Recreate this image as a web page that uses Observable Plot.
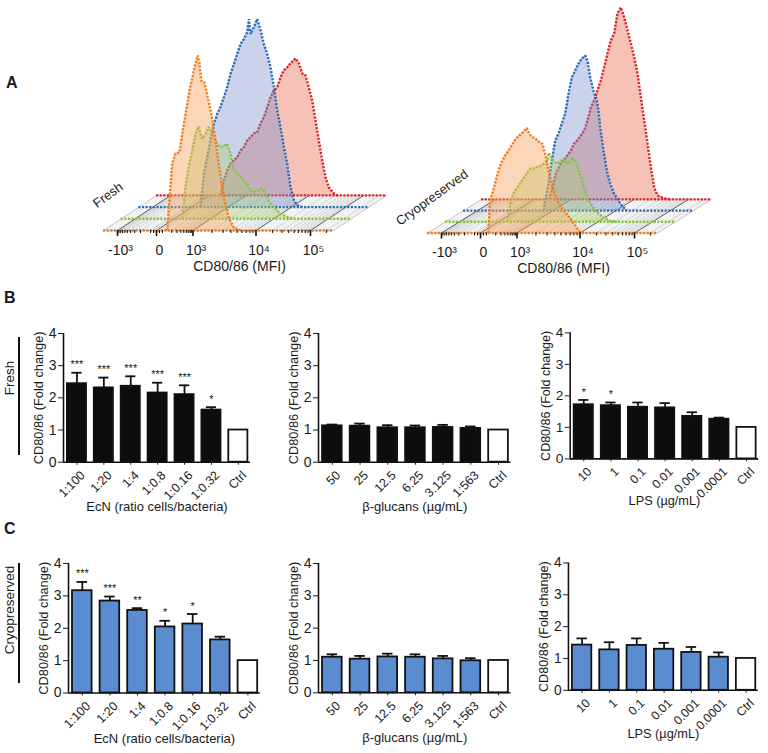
<!DOCTYPE html>
<html><head><meta charset="utf-8">
<script src="https://cdn.jsdelivr.net/npm/d3@7"></script>
<script src="https://cdn.jsdelivr.net/npm/@observablehq/plot@0.6"></script>
<style>
body{margin:0;background:#fff;}
#root{position:relative;width:768px;height:753px;overflow:hidden;background:#fff;font-family:Arial,"Liberation Sans",sans-serif;color:#1a1a1a;}
.abs{position:absolute;}
.letter{position:absolute;font-weight:bold;font-size:16px;line-height:16px;}
.rowlab{position:absolute;font-size:13.5px;white-space:nowrap;transform:translate(-50%,-50%) rotate(-90deg);}
.vline{position:absolute;background:#111;width:2px;}
</style></head><body><div id="root"></div>
<script>
// ---------------- Panel A data (flow cytometry overlays) ----------------
// [display channel, count] pairs, front (orange) to back (red)
const freshOrange = [[63.7,0],[66,30],[68.7,67],[72,77],[76,78],[79.3,100],[82.7,120],[86,140],[89.3,155],[92,167],[94.3,175],[96,167],[97.7,150],[101,148],[104.3,133],[107.7,117],[111,97],[114.3,73],[117.7,50],[121,30],[125.3,13],[130.3,3],[137,0]];
const freshGreen = [[61,0],[64.3,32],[67.6,52],[71,68],[74.3,85],[77.6,92],[81,80],[84.3,85],[87.6,92],[91,85],[94.3,78],[97.6,73],[101,72],[106,75],[109.3,65],[112.6,48],[116,45],[119.3,42],[122.6,37],[126,35],[129.3,28],[132.6,27],[136,28],[141,30],[144.3,25],[147.6,18],[152.6,12],[159.3,5],[166,2],[172.6,0]];
const freshBlue = [[61.6,0],[65,33],[68.3,50],[71.6,67],[75,83],[78.3,93],[81.6,100],[85,110],[88.3,120],[91.6,133],[95,143],[98.3,153],[101.6,163],[105,168],[108.3,175],[110,188],[111.6,173],[115,180],[118.3,188],[121.6,177],[125,163],[128.3,153],[131.6,140],[135,120],[138.3,97],[141.6,80],[145,60],[148.3,43],[151.6,20],[155,7],[158.3,2],[163.3,0]];
const freshRed = [[63.9,0],[67.2,15],[70.6,25],[73.9,32],[77.2,35],[80.6,38],[83.9,45],[87.2,48],[90.6,55],[93.9,58],[97.2,62],[100.6,63],[103.9,72],[107.2,78],[110.6,88],[113.9,98],[117.2,105],[120.6,108],[123.9,118],[127.2,125],[130.6,128],[133.9,132],[138.9,137],[142.2,132],[145.6,122],[148.9,120],[152.2,108],[155.6,95],[158.9,75],[162.2,55],[165.6,35],[168.9,18],[172.2,8],[177.2,2],[180.6,0]];
const cryoOrange = [[60.7,0],[62.7,32],[66.7,46],[70,59],[73.4,69],[76.7,76],[80,81],[83.4,86],[86.7,92],[90,96],[93.4,99],[96.7,102],[99.4,105],[101.7,99],[105,96],[108.4,94],[111.7,91],[115,89],[118.4,76],[121.7,59],[125,46],[128.4,36],[131.7,29],[136.7,22],[141.7,16],[146.7,9],[151.7,2],[156.7,0]];
const cryoGreen = [[61.6,0],[63.3,8],[65,21],[68.3,29],[71.6,34],[75,39],[78.3,44],[81.6,49],[85,53],[90,54],[95,56],[98.3,58],[101.6,61],[103.3,69],[105,66],[108.3,61],[111.6,58],[115,61],[118.3,63],[121.6,58],[125,61],[126.6,64],[130,61],[133.3,51],[136.6,41],[140,29],[143.3,21],[148.3,13],[153.3,8],[158.3,4],[165,1],[171.6,0]];
const cryoBlue = [[80,0],[81.7,10],[85,27],[88.3,50],[91.7,70],[95,77],[98.3,87],[101.7,97],[105,117],[108.3,133],[111.7,140],[115,147],[118.3,152],[121.7,155],[124,150],[126.7,133],[130,120],[133.3,110],[135,100],[136.7,83],[140,60],[143.3,40],[146.7,27],[150,18],[155,10],[158.3,5],[163.3,0]];
const cryoRed = [[67.7,0],[71,12],[74.4,26],[79.4,36],[84.4,42],[89.4,49],[92.7,56],[96,59],[99.4,64],[102.7,69],[106,79],[109.4,92],[112.7,99],[116,109],[119.4,119],[122.7,132],[126,146],[129.4,159],[132.7,166],[136,186],[139.4,192],[142.7,182],[146,169],[149.4,156],[152.7,142],[156,126],[159.4,102],[162.7,79],[166,56],[169.4,32],[172.7,12],[176,4],[182.7,1],[189.4,0]];

const mfiTickValues = [-1000, 0, 1000, 10000, 100000];
const mfiTickLabels = ["-10³", "0", "10³", "10⁴", "10⁵"];
// logicle-like display calibration (value -> display channel)
const displayAnchorV = [-1000, -100, 0, 100, 1000, 10000, 100000, 262144];
const displayAnchorC = [14, 47, 53, 59, 89.5, 152.5, 207, 229];

// ---------------- Panels B / C data ----------------
const ecnLabels = ["1:100","1:20","1:4","1:0.8","1:0.16","1:0.32","Ctrl"];
const glucanLabels = ["50","25","12.5","6.25","3.125","1:563","Ctrl"];
const lpsLabels = ["10","1","0.1","0.01","0.001","0.0001","Ctrl"];

const freshEcnMean = [2.44, 2.31, 2.36, 2.15, 2.10, 1.62, 1.0];
const freshEcnErr  = [0.34, 0.32, 0.31, 0.32, 0.29, 0.09, 0];
const freshEcnSig  = ["***","***","***","***","***","*",""];
const freshGluMean = [1.13, 1.12, 1.07, 1.07, 1.08, 1.05, 1.0];
const freshGluErr  = [0.04, 0.08, 0.08, 0.07, 0.08, 0.06, 0];
const freshGluSig  = ["","","","","","",""];
const freshLpsMean = [1.72, 1.69, 1.64, 1.62, 1.35, 1.26, 1.0];
const freshLpsErr  = [0.15, 0.10, 0.15, 0.15, 0.13, 0.05, 0];
const freshLpsSig  = ["*","*","","","","",""];

const cryoEcnMean = [3.16, 2.84, 2.55, 2.04, 2.13, 1.64, 1.0];
const cryoEcnErr  = [0.27, 0.14, 0.07, 0.19, 0.31, 0.10, 0];
const cryoEcnSig  = ["***","***","**","*","*","",""];
const cryoGluMean = [1.10, 1.04, 1.11, 1.10, 1.05, 0.99, 1.0];
const cryoGluErr  = [0.09, 0.10, 0.10, 0.09, 0.09, 0.08, 0];
const cryoGluSig  = ["","","","","","",""];
const cryoLpsMean = [1.42, 1.27, 1.41, 1.29, 1.19, 1.04, 1.0];
const cryoLpsErr  = [0.21, 0.24, 0.22, 0.20, 0.17, 0.15, 0];
const cryoLpsSig  = ["","","","","","",""];

const yTicks = [0, 1, 2, 3, 4];

// ---------------- helpers ----------------
const FONT = 'Arial, "Liberation Sans", sans-serif';
const INK = "#1a1a1a";
const root = document.getElementById("root");
function place(node, left, top) {
  const w = document.createElement("div");
  w.className = "abs"; w.style.left = left + "px"; w.style.top = top + "px";
  w.appendChild(node); root.appendChild(w);
}
function chan(v) {
  const V = displayAnchorV, C = displayAnchorC;
  let i = 0;
  while (i < V.length - 2 && v > V[i + 1]) i++;
  const a = V[i], b = V[i + 1];
  let t;
  if (Math.abs(a) >= 100 && Math.abs(b) >= 100 && Math.sign(a) === Math.sign(b)) {
    t = (Math.log10(Math.abs(v)) - Math.log10(Math.abs(a))) / (Math.log10(Math.abs(b)) - Math.log10(Math.abs(a)));
  } else t = (v - a) / (b - a);
  return C[i] + t * (C[i + 1] - C[i]);
}
const minorVals = [];
for (let m = 2; m <= 9; m++) { minorVals.push(-m * 100, m * 100, m * 1000, m * 10000); }
minorVals.push(-100, -50, 50, 100, 200000);

const layerStyle = [
  {stroke: "#f47c20", fill: "#f5a55a", op: 0.44},
  {stroke: "#86c440", fill: "#a5cf6a", op: 0.36},
  {stroke: "#2c6db8", fill: "#7b8fd0", op: 0.40},
  {stroke: "#d6262b", fill: "#e8775a", op: 0.45}
];

function histoChart(cfg) {
  const W = 230, DX = cfg.dx, DY = cfg.dy, base = cfg.base;
  const xDom = [-30, 290], H = 285;
  const dash = "2.2 1.4";
  const marks = [];
  const floor = [[0,0],[W,0],[W+3*DX,3*DY],[3*DX,3*DY],[0,0]];
  marks.push(Plot.line(floor, {x: d => d[0], y: d => d[1], fill: "#f2f2f2", stroke: "#aaa", strokeWidth: 0.7}));
  marks.push(Plot.link(minorVals, {x1: v => chan(v), y1: 0, x2: v => chan(v) + 3*DX, y2: 3*DY, stroke: "#bdbdbd", strokeWidth: 0.6}));
  marks.push(Plot.link(mfiTickValues, {x1: v => chan(v), y1: 0, x2: v => chan(v) + 3*DX, y2: 3*DY, stroke: "#333", strokeWidth: 0.8}));
  for (let k = 3; k >= 0; k--) {
    const s = layerStyle[k], data = cfg.layers[k];
    marks.push(Plot.areaY(data, {x: d => d[0] + k*DX, y1: k*DY, y2: d => d[1] + k*DY, fill: s.fill, fillOpacity: s.op}));
    marks.push(Plot.ruleY([k*DY], {x1: k*DX, x2: W + k*DX, stroke: s.stroke, strokeWidth: 2.4, strokeDasharray: dash, strokeLinecap: "butt"}));
    marks.push(Plot.line(data, {x: d => d[0] + k*DX, y: d => d[1] + k*DY, stroke: s.stroke, strokeWidth: 2.4, strokeDasharray: dash, strokeLinecap: "butt", strokeLinejoin: "miter"}));
  }
  marks.push(Plot.ruleX(minorVals, {x: v => chan(v), y1: 0, y2: -3, stroke: "#111", strokeWidth: 1}));
  marks.push(Plot.ruleX(mfiTickValues, {x: v => chan(v), y1: 0, y2: -6, stroke: "#111", strokeWidth: 1.6}));
  marks.push(Plot.text(mfiTickValues, {x: v => chan(v), y: 0, text: (v, i) => mfiTickLabels[i], dy: 20, dx: 3, fontSize: 14, fill: INK}));
  marks.push(Plot.text(["CD80/86 (MFI)"], {frameAnchor: "bottom", textAnchor: "middle", dy: 40, dx: 6, fontSize: 14, fill: INK}));
  marks.push(Plot.text([cfg.name], {frameAnchor: "bottom-left", textAnchor: "middle", dx: 37, dy: -32, rotate: -36, fontSize: 13, fill: INK}));
  const svg = Plot.plot({
    width: xDom[1] - xDom[0], height: H,
    marginLeft: 0, marginRight: 0, marginTop: 0, marginBottom: H - base,
    style: {background: "transparent", overflow: "visible", fontFamily: FONT},
    x: {domain: xDom, axis: null},
    y: {domain: [0, base], axis: null},
    marks
  });
  place(svg, cfg.origin + xDom[0], 0);
}

function barChart(cfg) {
  const n = cfg.labels.length;
  const rows = cfg.labels.map((label, i) => ({i, label, mean: cfg.means[i], err: cfg.errs[i], sig: cfg.sigs[i], ctrl: label === "Ctrl"}));
  const withErr = rows.filter(d => d.err > 0);
  const dom = [-0.5, n - 0.55];
  const mL = 62, mT = 30, mR = 10, mB = 75;
  const innerW = cfg.step * (dom[1] - dom[0]);
  const innerH = cfg.y0 - cfg.y4;
  const svg = Plot.plot({
    width: mL + innerW + mR, height: mT + innerH + mB,
    marginLeft: mL, marginTop: mT, marginRight: mR, marginBottom: mB,
    style: {background: "transparent", overflow: "visible", fontFamily: FONT, color: INK},
    x: {domain: dom},
    y: {domain: [0, 4]},
    marks: [
      Plot.rectY(rows, {x1: d => d.i - 0.355, x2: d => d.i + 0.355, y1: 0, y2: "mean", fill: d => d.ctrl ? "white" : cfg.fill, stroke: "#111", strokeWidth: 1.8}),
      Plot.ruleX(withErr, {x: "i", y1: "mean", y2: d => d.mean + d.err, stroke: "#111", strokeWidth: 1.8}),
      Plot.ruleY(withErr, {y: d => d.mean + d.err, x1: d => d.i - 0.19, x2: d => d.i + 0.19, stroke: "#111", strokeWidth: 1.8}),
      Plot.text(rows.filter(d => d.sig), {x: "i", y: d => d.mean + d.err, text: "sig", dy: -8, fontSize: 11, fill: INK}),
      Plot.ruleX([dom[0]], {y1: 0, y2: 4, stroke: "#111", strokeWidth: 1.6}),
      Plot.ruleY([0], {x1: dom[0], x2: dom[1], stroke: "#111", strokeWidth: 1.6}),
      Plot.axisY({ticks: yTicks, tickFormat: d => String(d), tickSize: 5, tickPadding: 2, fontSize: 14, label: null}),
      Plot.axisX({ticks: rows.map(d => d.i), tickSize: 3, tickFormat: () => "", label: null}),
      Plot.text(rows, {x: "i", y: 0, text: "label", rotate: -45, textAnchor: "end", dx: 6, dy: 11, fontSize: 12.5, fill: INK}),
      Plot.text(["CD80/86 (Fold change)"], {frameAnchor: "left", textAnchor: "middle", rotate: -90, dx: -25, fontSize: 12.8, fill: INK}),
      Plot.text([cfg.xTitle], {frameAnchor: "bottom", textAnchor: "middle", dy: cfg.titleDy, fontSize: 13, fill: INK})
    ]
  });
  place(svg, cfg.axisX - mL, cfg.y4 - mT);
}

// ---------------- Panel A ----------------
histoChart({name: "Fresh", origin: 103, base: 230, dx: 17.7, dy: 11.7, layers: [freshOrange, freshGreen, freshBlue, freshRed]});
histoChart({name: "Cryopreserved", origin: 427.3, base: 232.5, dx: 18, dy: 11.2, layers: [cryoOrange, cryoGreen, cryoBlue, cryoRed]});

// ---------------- Panel B (fresh) ----------------
const BLACK = "#0d0d0d", BLUE = "#5b8ccf";
barChart({labels: ecnLabels, means: freshEcnMean, errs: freshEcnErr, sigs: freshEcnSig, fill: BLACK, xTitle: "EcN (ratio cells/bacteria)", axisX: 63.3, y4: 333, y0: 461.7, step: 26.9, titleDy: 48.5});
barChart({labels: glucanLabels, means: freshGluMean, errs: freshGluErr, sigs: freshGluSig, fill: BLACK, xTitle: "β-glucans (µg/mL)", axisX: 318.3, y4: 333, y0: 461.7, step: 27.7, titleDy: 48.5});
barChart({labels: lpsLabels, means: freshLpsMean, errs: freshLpsErr, sigs: freshLpsSig, fill: BLACK, xTitle: "LPS (µg/mL)", axisX: 571, y4: 333, y0: 461.7, step: 27.7, titleDy: 47.5});
// ---------------- Panel C (cryopreserved) ----------------
barChart({labels: ecnLabels, means: cryoEcnMean, errs: cryoEcnErr, sigs: cryoEcnSig, fill: BLUE, xTitle: "EcN (ratio cells/bacteria)", axisX: 68.3, y4: 562.5, y0: 692, step: 27.6, titleDy: 50});
barChart({labels: glucanLabels, means: cryoGluMean, errs: cryoGluErr, sigs: cryoGluSig, fill: BLUE, xTitle: "β-glucans (µg/mL)", axisX: 318.3, y4: 563, y0: 692.3, step: 27.7, titleDy: 49.5});
barChart({labels: lpsLabels, means: cryoLpsMean, errs: cryoLpsErr, sigs: cryoLpsSig, fill: BLUE, xTitle: "LPS (µg/mL)", axisX: 569.3, y4: 562.5, y0: 692, step: 27.8, titleDy: 49});

// ---------------- labels ----------------
function addDiv(cls, text, css) {
  const d = document.createElement("div"); d.className = cls; if (text) d.textContent = text;
  Object.assign(d.style, css); root.appendChild(d);
}
addDiv("letter", "A", {left: "6px", top: "75px"});
addDiv("letter", "B", {left: "4px", top: "290px"});
addDiv("letter", "C", {left: "4px", top: "521px"});
addDiv("rowlab", "Fresh", {left: "8.5px", top: "378px"});
addDiv("vline", "", {left: "18px", top: "337px", height: "118px"});
addDiv("rowlab", "Cryopreserved", {left: "8.5px", top: "610px"});
addDiv("vline", "", {left: "18px", top: "563px", height: "120px"});
</script></body></html>
